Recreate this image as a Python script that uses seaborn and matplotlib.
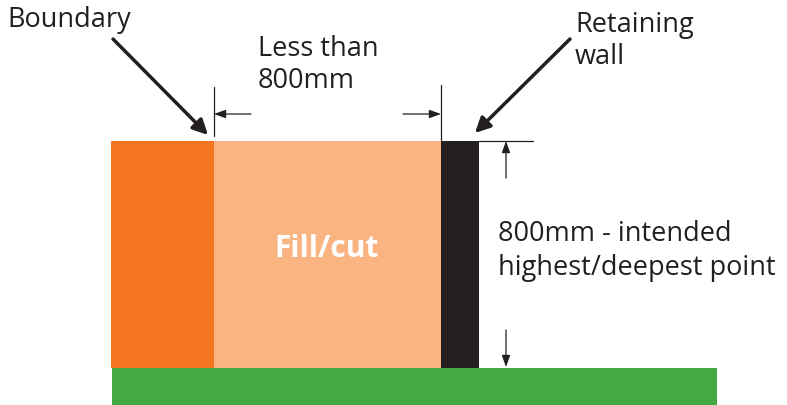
import matplotlib
matplotlib.use("Agg")
import matplotlib.pyplot as plt
import seaborn as sns

sns.set_style("white")
plt.rcParams['font.family'] = ['Open Sans', 'DejaVu Sans']

# blocks: name, left, right, top, bottom (diagram units, y downward)
block_names = ["Boundary", "Fill/cut", "Retaining wall", "Ground"]
block_left = [111, 214, 441, 112]
block_right = [214, 441, 479, 717]
block_top = [141, 141, 141, 368]
block_bottom = [368, 368, 368, 405]
block_colors = ["#F47521", "#F9B482", "#231F20", "#43AA43"]

fig = plt.figure(figsize=(7.87, 4.05), dpi=100)
ax = fig.add_axes([0, 0, 1, 1])
ax.set_xlim(0, 787)
ax.set_ylim(405, 0)
ax.axis("off")

for l, r, t, b, c in zip(block_left, block_right, block_top, block_bottom, block_colors):
    ax.bar(l, b - t, width=r - l, bottom=t, align="edge", color=c, linewidth=0)

ax.text(327, 249, "Fill/cut", color="white", fontsize=21.5, fontweight="bold",
        ha="center", va="center")

# text labels
fs = 19.5
ax.text(7, 20, "Boundary", fontsize=fs, color="#231F20", va="center", ha="left")
ax.text(258, 65, "Less than\n800mm", fontsize=fs, color="#231F20", va="center", ha="left", linespacing=1.2)
ax.text(575, 41, "Retaining\nwall", fontsize=fs, color="#231F20", va="center", ha="left", linespacing=1.2)
ax.text(498, 251, "800mm - intended\nhighest/deepest point", fontsize=fs, color="#231F20",
        va="center", ha="left", linespacing=1.25)

# big pointer arrows
big = dict(arrowstyle="-|>,head_length=0.9,head_width=0.45", color="#231F20", lw=2.5, shrinkA=0, shrinkB=0)
ax.annotate("", xy=(208, 135), xytext=(113, 39), arrowprops=big)
ax.annotate("", xy=(475, 133), xytext=(570, 39), arrowprops=big)

# dimension lines
thin = dict(color="#231F20", lw=0.9)
ax.plot([214, 214], [87, 136], **thin)
ax.plot([441, 441], [85, 140], **thin)
ax.plot([479, 533], [141, 141], **thin)
small = dict(arrowstyle="-|>,head_length=0.7,head_width=0.25", color="#231F20", lw=0.9, shrinkA=0, shrinkB=0)
ax.annotate("", xy=(214, 114), xytext=(251, 114), arrowprops=small)
ax.annotate("", xy=(441, 114), xytext=(403, 114), arrowprops=small)
ax.annotate("", xy=(506, 141), xytext=(506, 178), arrowprops=small)
ax.annotate("", xy=(506, 367), xytext=(506, 330), arrowprops=small)

fig.savefig("out.png", dpi=100)
